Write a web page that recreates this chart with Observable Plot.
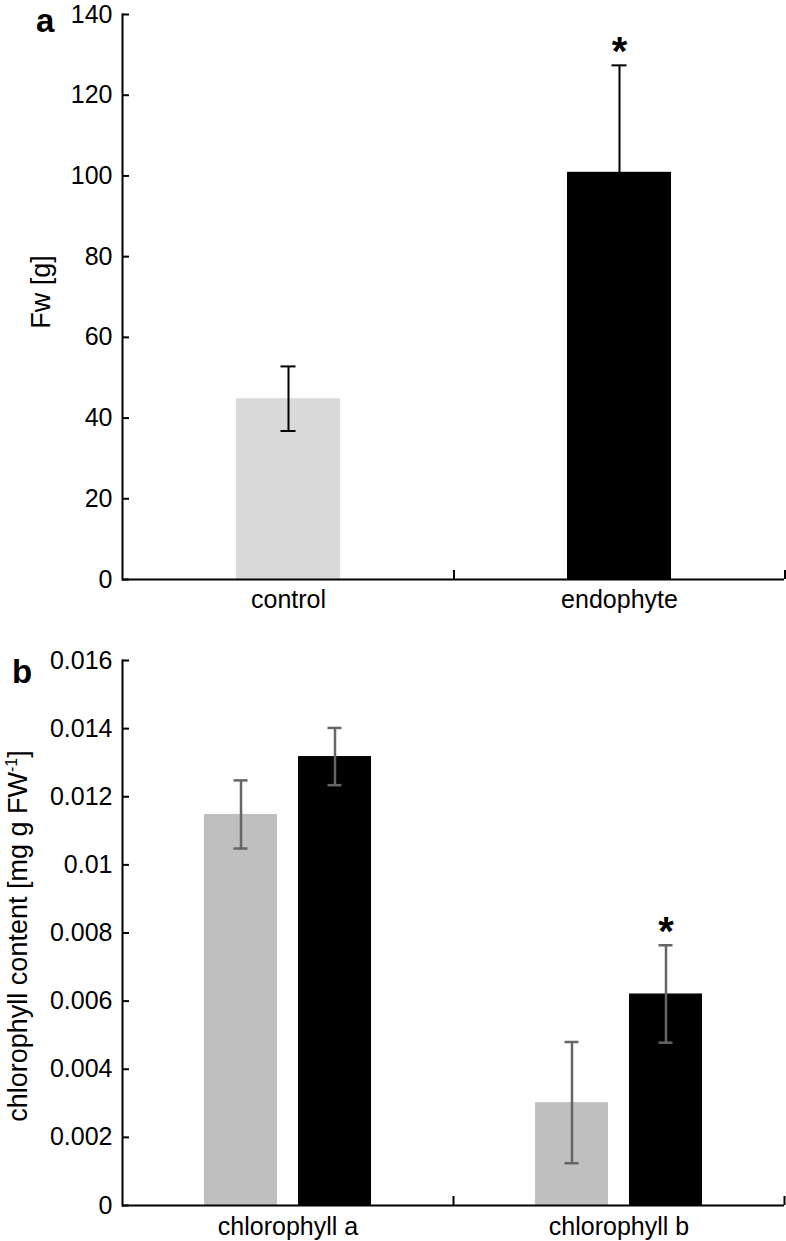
<!DOCTYPE html>
<html>
<head>
<meta charset="utf-8">
<script src="https://cdn.jsdelivr.net/npm/d3@7"></script>
<script src="https://cdn.jsdelivr.net/npm/@observablehq/plot@0.6"></script>
<style>
  html, body { margin: 0; padding: 0; background: #fff; }
  #page { position: relative; width: 786px; height: 1241px; overflow: hidden; font-family: "Liberation Sans", Arial, sans-serif; color: #000; }
  .panel { position: absolute; left: 0; }
  .panel svg { display: block; }
  .tag { position: absolute; font-weight: bold; font-size: 33px; line-height: 32px; }
  .ylab { position: absolute; white-space: nowrap; font-size: 27px; line-height: 27px; transform: translate(-50%, -50%) rotate(-90deg); }
  .ylab sup { font-size: 16px; vertical-align: 10px; line-height: 0; }
</style>
</head>
<body>
<div id="page">
  <div class="panel" id="pa" style="top:0"></div>
  <div class="panel" id="pb" style="top:620px"></div>
  <div class="tag" style="left:36px; top:5px">a</div>
  <div class="tag" style="left:12px; top:656px">b</div>
  <div class="ylab" style="left:41px; top:292px">Fw [g]</div>
  <div class="ylab" style="left:18px; top:936px">chlorophyll content [mg g FW<sup>-1</sup>]</div>
</div>
<script>
// ---- Panel a data ----
const groupsA = ["control", "endophyte"];
const fwMean = [44.8, 100.9];
const fwErr = [8.0, 26.5];
const fwSig = ["", "*"];
const yTicksA = [0, 20, 40, 60, 80, 100, 120, 140];

// ---- Panel b data ----
const pigments = ["chlorophyll a", "chlorophyll b"];
const treatments = ["control", "endophyte"];
const chlControl = [0.01148, 0.00302];
const chlControlErr = [0.00100, 0.00178];
const chlEndo = [0.01318, 0.00621];
const chlEndoErr = [0.00084, 0.00143];
const chlSig = ["", "*"];
const yTicksB = [0, 0.002, 0.004, 0.006, 0.008, 0.01, 0.012, 0.014, 0.016];

const W = 786, ML = 122, MR = 2;
const font = { fontFamily: "'Liberation Sans', Arial, sans-serif", fontSize: "25px", color: "#000", background: "#fff", overflow: "visible" };

const dataA = groupsA.map((g, i) => ({ group: g, mean: fwMean[i], err: fwErr[i], sig: fwSig[i] }));
const halfA = (W - ML - MR) / groupsA.length / 2;

const plotA = Plot.plot({
  width: W, height: 620,
  marginLeft: ML, marginRight: MR, marginTop: 14, marginBottom: 41,
  style: font,
  x: { domain: groupsA, paddingInner: 0.686, paddingOuter: 0.343, label: null },
  y: { domain: [0, 140], label: null },
  color: { domain: groupsA, range: ["#d9d9d9", "#000000"] },
  marks: [
    Plot.barY(dataA, { x: "group", y: "mean", fill: "group" }),
    Plot.ruleX(dataA, { x: "group", y1: d => d.mean - d.err, y2: d => d.mean + d.err, stroke: "#000", strokeWidth: 2 }),
    Plot.tickY(dataA, { x: "group", y: d => d.mean + d.err, stroke: "#000", strokeWidth: 2, insetLeft: 44.5, insetRight: 44.5 }),
    Plot.tickY(dataA, { x: "group", y: d => d.mean - d.err, stroke: "#000", strokeWidth: 2, insetLeft: 44.5, insetRight: 44.5 }),
    Plot.text(dataA.filter(d => d.sig), { x: "group", y: d => d.mean + d.err, text: "sig", lineAnchor: "bottom", dy: 0, fontSize: 40, fontWeight: "bold", fill: "#000" }),
    Plot.ruleY([0], { stroke: "#000", strokeWidth: 2 }),
    Plot.frame({ anchor: "left", stroke: "#000", strokeWidth: 2 }),
    Plot.axisY({ ticks: yTicksA, tickSize: -7, tickPadding: 17, strokeWidth: 2, tickFormat: d => String(d), label: null }),
    Plot.axisX({ tickSize: 0, tickPadding: 11, label: null }),
    Plot.axisX({ tickSize: -9, tickPadding: 0, strokeWidth: 2, tickFormat: () => "", dx: halfA, label: null })
  ]
});
document.getElementById("pa").appendChild(plotA);

const dataB = [];
pigments.forEach((p, i) => {
  dataB.push({ pigment: p, treatment: "control", mean: chlControl[i], err: chlControlErr[i], sig: "" });
  dataB.push({ pigment: p, treatment: "endophyte", mean: chlEndo[i], err: chlEndoErr[i], sig: chlSig[i] });
});
const halfB = (W - ML - MR) / pigments.length / 2;

const plotB = Plot.plot({
  width: W, height: 621,
  marginLeft: ML, marginRight: MR, marginTop: 40, marginBottom: 36,
  style: font,
  fx: { domain: pigments, padding: 0, label: null },
  x: { domain: treatments, paddingInner: 0.221, paddingOuter: 0.853, label: null, axis: null },
  y: { domain: [0, 0.016], label: null },
  color: { domain: treatments, range: ["#bfbfbf", "#000000"] },
  marks: [
    Plot.barY(dataB, { fx: "pigment", x: "treatment", y: "mean", fill: "treatment" }),
    Plot.ruleX(dataB, { fx: "pigment", x: "treatment", y1: d => d.mean - d.err, y2: d => d.mean + d.err, stroke: "#666", strokeWidth: 2.5 }),
    Plot.tickY(dataB, { fx: "pigment", x: "treatment", y: d => d.mean + d.err, stroke: "#666", strokeWidth: 2.5, insetLeft: 29.5, insetRight: 29.5 }),
    Plot.tickY(dataB, { fx: "pigment", x: "treatment", y: d => d.mean - d.err, stroke: "#666", strokeWidth: 2.5, insetLeft: 29.5, insetRight: 29.5 }),
    Plot.text(dataB.filter(d => d.sig), { fx: "pigment", x: "treatment", y: d => d.mean + d.err, text: "sig", lineAnchor: "bottom", dy: 0, fontSize: 40, fontWeight: "bold", fill: "#000" }),
    Plot.ruleY([0], { stroke: "#000", strokeWidth: 2 }),
    Plot.frame({ anchor: "left", facetAnchor: "left", stroke: "#000", strokeWidth: 2 }),
    Plot.axisY({ ticks: yTicksB, tickSize: -7, tickPadding: 17, strokeWidth: 2, tickFormat: d => String(+d.toFixed(3)), label: null }),
    Plot.axisFx({ anchor: "bottom", tickSize: 0, tickPadding: 12, label: null }),
    Plot.axisFx({ anchor: "bottom", tickSize: -9, tickPadding: 0, strokeWidth: 2, tickFormat: () => "", dx: halfB, label: null })
  ]
});
document.getElementById("pb").appendChild(plotB);
</script>
</body>
</html>
